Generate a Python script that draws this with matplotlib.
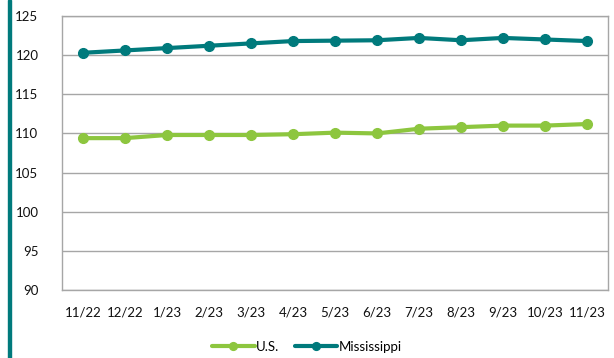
import matplotlib.pyplot as plt
from matplotlib.patches import Rectangle

months = ["11/22", "12/22", "1/23", "2/23", "3/23", "4/23", "5/23",
          "6/23", "7/23", "8/23", "9/23", "10/23", "11/23"]
us = [109.4, 109.4, 109.8, 109.8, 109.8, 109.9, 110.1,
      110.0, 110.6, 110.8, 111.0, 111.0, 111.2]
mississippi = [120.3, 120.6, 120.9, 121.2, 121.5, 121.8, 121.85,
               121.9, 122.2, 121.9, 122.2, 122.0, 121.8]

green = "#8DC63F"
teal = "#007A7C"
grid_gray = "#A6A6A6"

plt.rcParams['font.family'] = ['Lato', 'DejaVu Sans']

fig = plt.figure(figsize=(6.14, 3.58), dpi=100)
ax = fig.add_axes([62 / 614, 1 - 290 / 358, 546 / 614, 274 / 358])

x = range(len(months))
ax.plot(x, us, color=green, lw=3, marker="o", ms=7, label="U.S.",
        solid_capstyle="round", zorder=3)
ax.plot(x, mississippi, color=teal, lw=3, marker="o", ms=7, label="Mississippi",
        solid_capstyle="round", zorder=3)

ax.set_ylim(90, 125)
ax.set_yticks(range(90, 126, 5))
ax.set_xlim(-0.5, len(months) - 0.5)
ax.set_xticks(list(x))
ax.set_xticklabels(months)
ax.yaxis.grid(True, color=grid_gray, lw=1)
ax.set_axisbelow(True)
ax.tick_params(axis="both", length=0, labelsize=9.5, colors="#111111")
ax.tick_params(axis="y", pad=17)
ax.tick_params(axis="x", pad=12)
for s in ax.spines.values():
    s.set_color(grid_gray)
    s.set_linewidth(1)

leg = fig.legend(loc="center", bbox_to_anchor=(0.5, 1 - 347 / 358), ncol=2,
                 frameon=False, fontsize=9.5, handlelength=3.2,
                 handletextpad=0.1, columnspacing=1.2, markerscale=0.8)

# teal accent strip down the left edge
fig.patches.append(Rectangle((8 / 614, 0), 3 / 614, 1, transform=fig.transFigure,
                             color=teal, zorder=0))

fig.savefig("out.png", dpi=100)
